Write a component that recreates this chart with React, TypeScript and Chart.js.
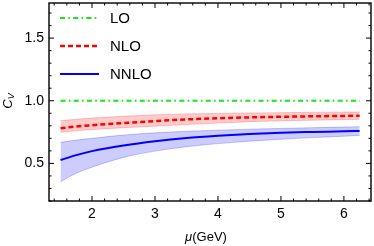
import React, { useEffect, useRef } from "react";
import { Chart, registerables } from "chart.js";

Chart.register(...registerables);

const mu = [1.5, 1.75, 2, 2.5, 3, 3.5, 4, 4.5, 5, 5.5, 6, 6.25];
const loValues = [1, 1, 1, 1, 1, 1, 1, 1, 1, 1, 1, 1];
const nloCentral = [0.78, 0.795, 0.805, 0.822, 0.838, 0.851, 0.86, 0.867, 0.872, 0.876, 0.879, 0.88];
const nloUpper = [0.84, 0.852, 0.862, 0.876, 0.888, 0.895, 0.899, 0.902, 0.905, 0.907, 0.909, 0.91];
const nloLower = [0.748, 0.76, 0.77, 0.785, 0.797, 0.81, 0.822, 0.833, 0.84, 0.845, 0.849, 0.852];
const nnloCentral = [0.527, 0.566, 0.598, 0.643, 0.677, 0.703, 0.721, 0.735, 0.745, 0.751, 0.756, 0.759];
const nnloUpper = [0.668, 0.686, 0.7, 0.726, 0.744, 0.756, 0.765, 0.773, 0.779, 0.785, 0.79, 0.793];
const nnloLower = [0.354, 0.422, 0.47, 0.548, 0.598, 0.633, 0.658, 0.677, 0.693, 0.706, 0.717, 0.724];

const xTicks = [2, 3, 4, 5, 6];
const yTicks = [0.5, 1.0, 1.5];
const legendLabels = ["LO", "NLO", "NNLO"];

const FONT = "'Liberation Sans', Arial, sans-serif";
const GREEN = "#10ea10";
const GREEN_DASH = [5, 3.3, 1.6, 3.3];

const pts = (ys: number[]) => mu.map((x, i) => ({ x, y: ys[i] }));

const framePlugin = {
  id: "frame",
  afterDraw(chart: any) {
    const ctx = chart.ctx as CanvasRenderingContext2D;
    const { left, right, top, bottom } = chart.chartArea;
    const xs = chart.scales.x;
    const ys = chart.scales.y;
    ctx.save();
    ctx.strokeStyle = "#000";
    ctx.lineWidth = 1.4;
    ctx.strokeRect(left, top, right - left, bottom - top);
    ctx.lineWidth = 1;
    for (let k = 7; k <= 33; k++) {
      const v = k / 5;
      const px = xs.getPixelForValue(v);
      if (px < left || px > right) continue;
      const major = k % 5 === 0;
      const len = major ? 5 : 2.5;
      ctx.beginPath();
      ctx.moveTo(px, bottom);
      ctx.lineTo(px, bottom - len);
      ctx.moveTo(px, top);
      ctx.lineTo(px, top + len);
      ctx.stroke();
    }
    for (let k = 2; k <= 18; k++) {
      const v = k / 10;
      const py = ys.getPixelForValue(v);
      if (py < top || py > bottom) continue;
      const major = k % 5 === 0;
      const len = major ? 5 : 2.5;
      ctx.beginPath();
      ctx.moveTo(left, py);
      ctx.lineTo(left + len, py);
      ctx.moveTo(right, py);
      ctx.lineTo(right - len, py);
      ctx.stroke();
    }
    // legend
    const styles = [
      { color: GREEN, dash: GREEN_DASH, width: 1.8 },
      { color: "#ff0000", dash: [5, 3], width: 2.5 },
      { color: "#0000ff", dash: [], width: 2 },
    ];
    const rows = [18, 46, 74];
    legendLabels.forEach((lab, i) => {
      const s = styles[i];
      ctx.save();
      ctx.strokeStyle = s.color;
      ctx.lineWidth = s.width;
      ctx.setLineDash(s.dash);
      ctx.beginPath();
      ctx.moveTo(left + 11, rows[i]);
      ctx.lineTo(left + 50, rows[i]);
      ctx.stroke();
      ctx.restore();
      ctx.fillStyle = "#000";
      ctx.font = `15px ${FONT}`;
      ctx.textBaseline = "middle";
      ctx.textAlign = "left";
      ctx.fillText(lab, left + 61, rows[i] + 0.5);
    });
    // y title C_V
    ctx.save();
    ctx.translate(11.5, 101);
    ctx.rotate(-Math.PI / 2);
    ctx.fillStyle = "#000";
    ctx.textBaseline = "alphabetic";
    ctx.textAlign = "left";
    ctx.font = `italic 13px ${FONT}`;
    const cw = ctx.measureText("C").width;
    ctx.font = `italic 9px ${FONT}`;
    const vw = ctx.measureText("V").width;
    const start = -(cw + vw) / 2;
    ctx.font = `italic 13px ${FONT}`;
    ctx.fillText("C", start, 0);
    ctx.font = `italic 9px ${FONT}`;
    ctx.fillText("V", start + cw, 2.5);
    ctx.restore();
    // x title
    ctx.save();
    ctx.fillStyle = "#000";
    ctx.textBaseline = "alphabetic";
    ctx.textAlign = "left";
    ctx.font = `italic 13px ${FONT}`;
    const mw = ctx.measureText("μ").width;
    ctx.font = `13px ${FONT}`;
    const gw = ctx.measureText("(GeV)").width;
    const cx = (left + right) / 2 - 4;
    const sx = cx - (mw + gw) / 2;
    ctx.font = `italic 13px ${FONT}`;
    ctx.fillText("μ", sx, 241);
    ctx.font = `13px ${FONT}`;
    ctx.fillText("(GeV)", sx + mw, 241);
    ctx.restore();
    ctx.restore();
  },
};

export default function App() {
  const ref = useRef<HTMLCanvasElement>(null);
  useEffect(() => {
    document.body.style.margin = "0";
    const line = (data: number[], color: string, width: number, dash: number[], fill: any, bg?: string) => ({
      data: pts(data),
      borderColor: color,
      backgroundColor: bg || color,
      borderWidth: width,
      borderDash: dash,
      pointRadius: 0,
      fill,
      cubicInterpolationMode: "monotone" as const,
    });
    const chart = new Chart(ref.current!, {
      type: "line",
      data: {
        datasets: [
          line(nloUpper, "rgba(255,0,0,0.22)", 1, [], "+1", "rgba(255,0,0,0.2)"),
          line(nloLower, "rgba(255,0,0,0.22)", 1, [], false),
          line(nnloUpper, "rgba(0,0,255,0.22)", 1, [], "+1", "rgba(0,0,255,0.2)"),
          line(nnloLower, "rgba(0,0,255,0.22)", 1, [], false),
          line(loValues, GREEN, 1.8, GREEN_DASH, false),
          line(nloCentral, "#ff0000", 2.5, [5, 3], false),
          line(nnloCentral, "#0000ff", 2, [], false),
        ],
      },
      options: {
        responsive: false,
        animation: false,
        layout: { padding: { top: 3, right: 3, left: 0, bottom: 0 } },
        plugins: { legend: { display: false }, tooltip: { enabled: false } },
        scales: {
          x: {
            type: "linear",
            min: 1.317,
            max: 6.43,
            grid: { display: false, drawTicks: false },
            border: { display: false },
            afterBuildTicks: (s: any) => {
              s.ticks = xTicks.map((v) => ({ value: v }));
            },
            afterFit: (s: any) => {
              s.height = 45;
              s.paddingLeft = 0;
              s.paddingRight = 0;
            },
            ticks: {
              color: "#000",
              font: { family: FONT, size: 14 },
              padding: 5,
              maxRotation: 0,
              callback: (v: any) => String(v),
            },
          },
          y: {
            type: "linear",
            min: 0.2,
            max: 1.78,
            grid: { display: false, drawTicks: false },
            border: { display: false },
            afterBuildTicks: (s: any) => {
              s.ticks = yTicks.map((v) => ({ value: v }));
            },
            afterFit: (s: any) => {
              s.width = 49;
              s.paddingTop = 0;
              s.paddingBottom = 0;
            },
            ticks: {
              color: "#000",
              font: { family: FONT, size: 14 },
              padding: 5,
              callback: (v: any) => Number(v).toFixed(1),
            },
          },
        },
      },
      plugins: [framePlugin],
    });
    return () => chart.destroy();
  }, []);
  return (
    <div style={{ position: "absolute", left: 0, top: 0, width: 374, height: 246 }}>
      <canvas ref={ref} width={374} height={246} style={{ display: "block" }} />
    </div>
  );
}
